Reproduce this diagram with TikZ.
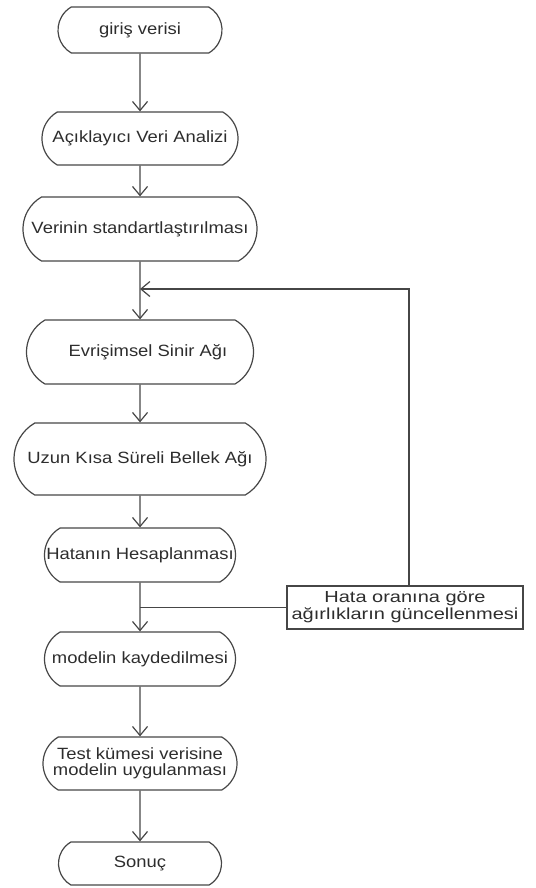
\documentclass[tikz,border=0pt]{standalone}
\usepackage{fontspec}
\setmainfont[FakeStretch=1.13]{Liberation Sans}
\newfontfamily\widefont[FakeStretch=1.25]{Liberation Sans}
\usetikzlibrary{shapes.misc,arrows.meta}
\definecolor{linegray}{RGB}{70,70,70}
\definecolor{textgray}{RGB}{45,45,45}

\begin{document}
\begin{tikzpicture}[x=1pt,y=-1pt,
        act/.style={rounded rectangle,rounded rectangle arc length=120,draw=linegray,
            line width=1.2pt,inner sep=2pt,align=center,text=textgray,
            font=\fontsize{16.3}{16}\selectfont},
        flow/.style={draw=linegray,line width=1.2pt,-{Straight Barb[length=9pt,width=15pt]}}]
    \useasboundingbox (0,0) rectangle (535,888);

    \node[act,minimum width=168pt,minimum height=46pt] (input) at (140,30) {giriş verisi};
    \node[act,minimum width=200pt,minimum height=53pt] (eda) at (140,138.5) {Açıklayıcı Veri Analizi};
    \node[act,minimum width=238pt,minimum height=64pt] (scale) at (140,229) {Verinin standartlaştırılması};
    \node[act,minimum width=231pt,minimum height=64pt] (cnn) at (140,352) {\hspace{16pt}Evrişimsel Sinir Ağı};
    \node[act,minimum width=256pt,minimum height=72pt] (lstm) at (140,459) {Uzun Kısa Süreli Bellek Ağı};
    \node[act,minimum width=195pt,minimum height=54pt] (loss) at (140,555) {Hatanın Hesaplanması};
    \node[draw=linegray,line width=1.2pt,align=center,text=textgray,inner sep=1pt,
        font=\widefont\fontsize{16}{17}\selectfont,minimum width=236pt,minimum height=43pt] (update) at (405,607.5)
        {Hata oranına göre\\ağırlıkların güncellenmesi};
    \node[act,minimum width=195pt,minimum height=54pt] (save) at (140,659) {modelin kaydedilmesi};
    \node[act,minimum width=198pt,minimum height=53pt] (test) at (140,763.5) {Test kümesi verisine\\modelin uygulanması};
    \node[act,minimum width=167pt,minimum height=43pt] (result) at (140,863.5) {Sonuç};

    \coordinate (join) at (140,289);

	\draw[flow] (input) -- (eda);
	\draw[flow] (eda) -- (scale);
	\draw[flow] (scale) -- (cnn);
	\draw[flow] (cnn) -- (lstm);
	\draw[flow] (lstm) -- (loss);
	\draw[flow] (loss) -- (save);
	\draw[flow] (save) -- (test);
	\draw[flow] (test) -- (result);
	% geri besleme
	\draw[flow] ([xshift=4pt]update.north) |- (join);
	\draw[draw=linegray,line width=1.2pt] (update.west) -- (update.west -| loss.south);
\end{tikzpicture}
\end{document}
